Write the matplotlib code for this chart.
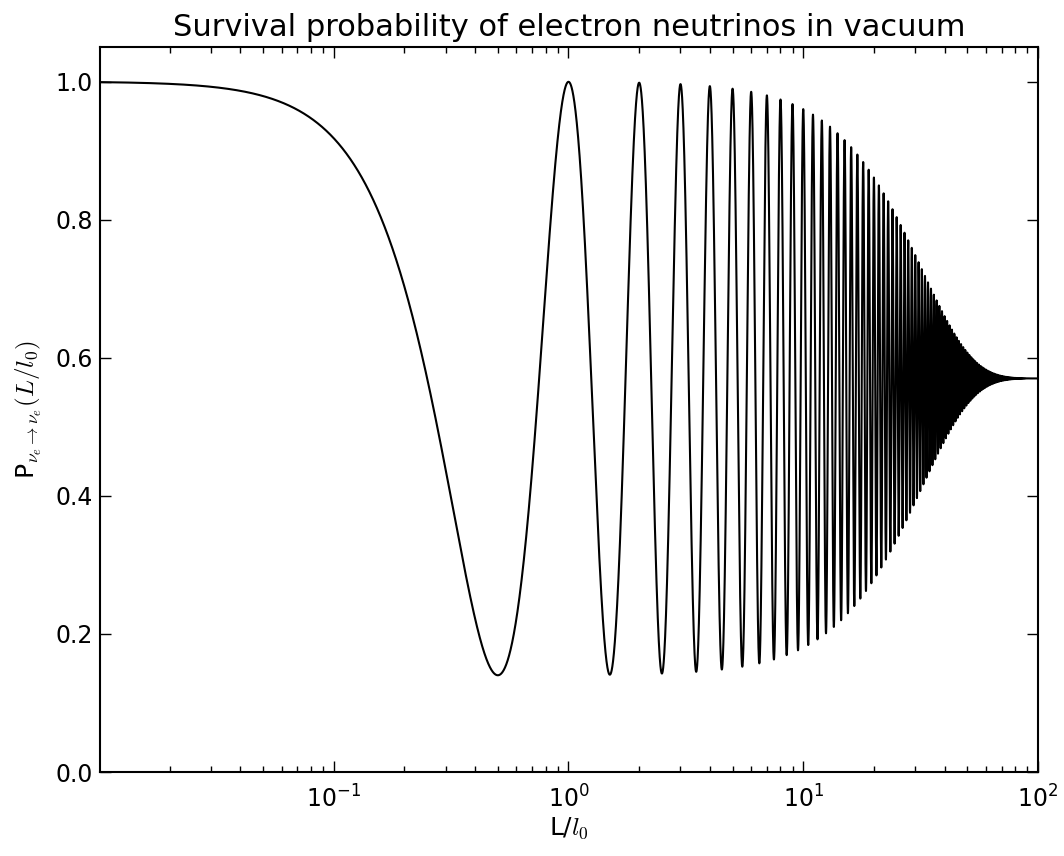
import matplotlib
matplotlib.use('Agg')
import matplotlib.pyplot as plt
import numpy as np

# values
sin2_2theta = 0.86      # deepest dips reach ~0.14
l_coherence = 32.0      # envelope has mostly died out by L/l0 ~ 60
x_range = (1.01e-2, 1e2)
y_range = (0.0, 1.05)
y_ticks = [0.0, 0.2, 0.4, 0.6, 0.8, 1.0]

L = np.logspace(np.log10(x_range[0]), np.log10(x_range[1]), 60000)
damping = np.exp(-(L / l_coherence) ** 2)
P = 1 - sin2_2theta / 2 * (1 - np.cos(2 * np.pi * L) * damping)

plt.rcParams['mathtext.fontset'] = 'cm'
plt.rcParams['font.family'] = 'DejaVu Sans'

fig = plt.figure(figsize=(10.64, 8.56), dpi=100)
ax = fig.add_axes([100 / 1064, 84 / 856, 938 / 1064, 725 / 856])
ax.plot(L, P, color='black', lw=1.5)
ax.set_xscale('log')
ax.set_xlim(*x_range)
ax.set_ylim(*y_range)
ax.set_yticks(y_ticks)
ax.set_yticklabels(['%.1f' % t for t in y_ticks])

ax.tick_params(which='both', direction='in', top=True, right=True, labelsize=17)
ax.tick_params(which='major', length=8, width=1)
ax.tick_params(which='minor', length=4, width=1)
ax.tick_params(axis='x', which='major', pad=10)
ax.tick_params(axis='y', which='major', pad=5)
for s in ax.spines.values():
    s.set_linewidth(1.5)

ax.set_title('Survival probability of electron neutrinos in vacuum', fontsize=22, pad=8)
ax.set_xlabel('L/$l_0$', fontsize=18, labelpad=2)
ax.set_ylabel(r'P$_{\nu_e\rightarrow\nu_e}(L/l_0)$', fontsize=18, labelpad=8)

fig.savefig('out.png', dpi=100)
